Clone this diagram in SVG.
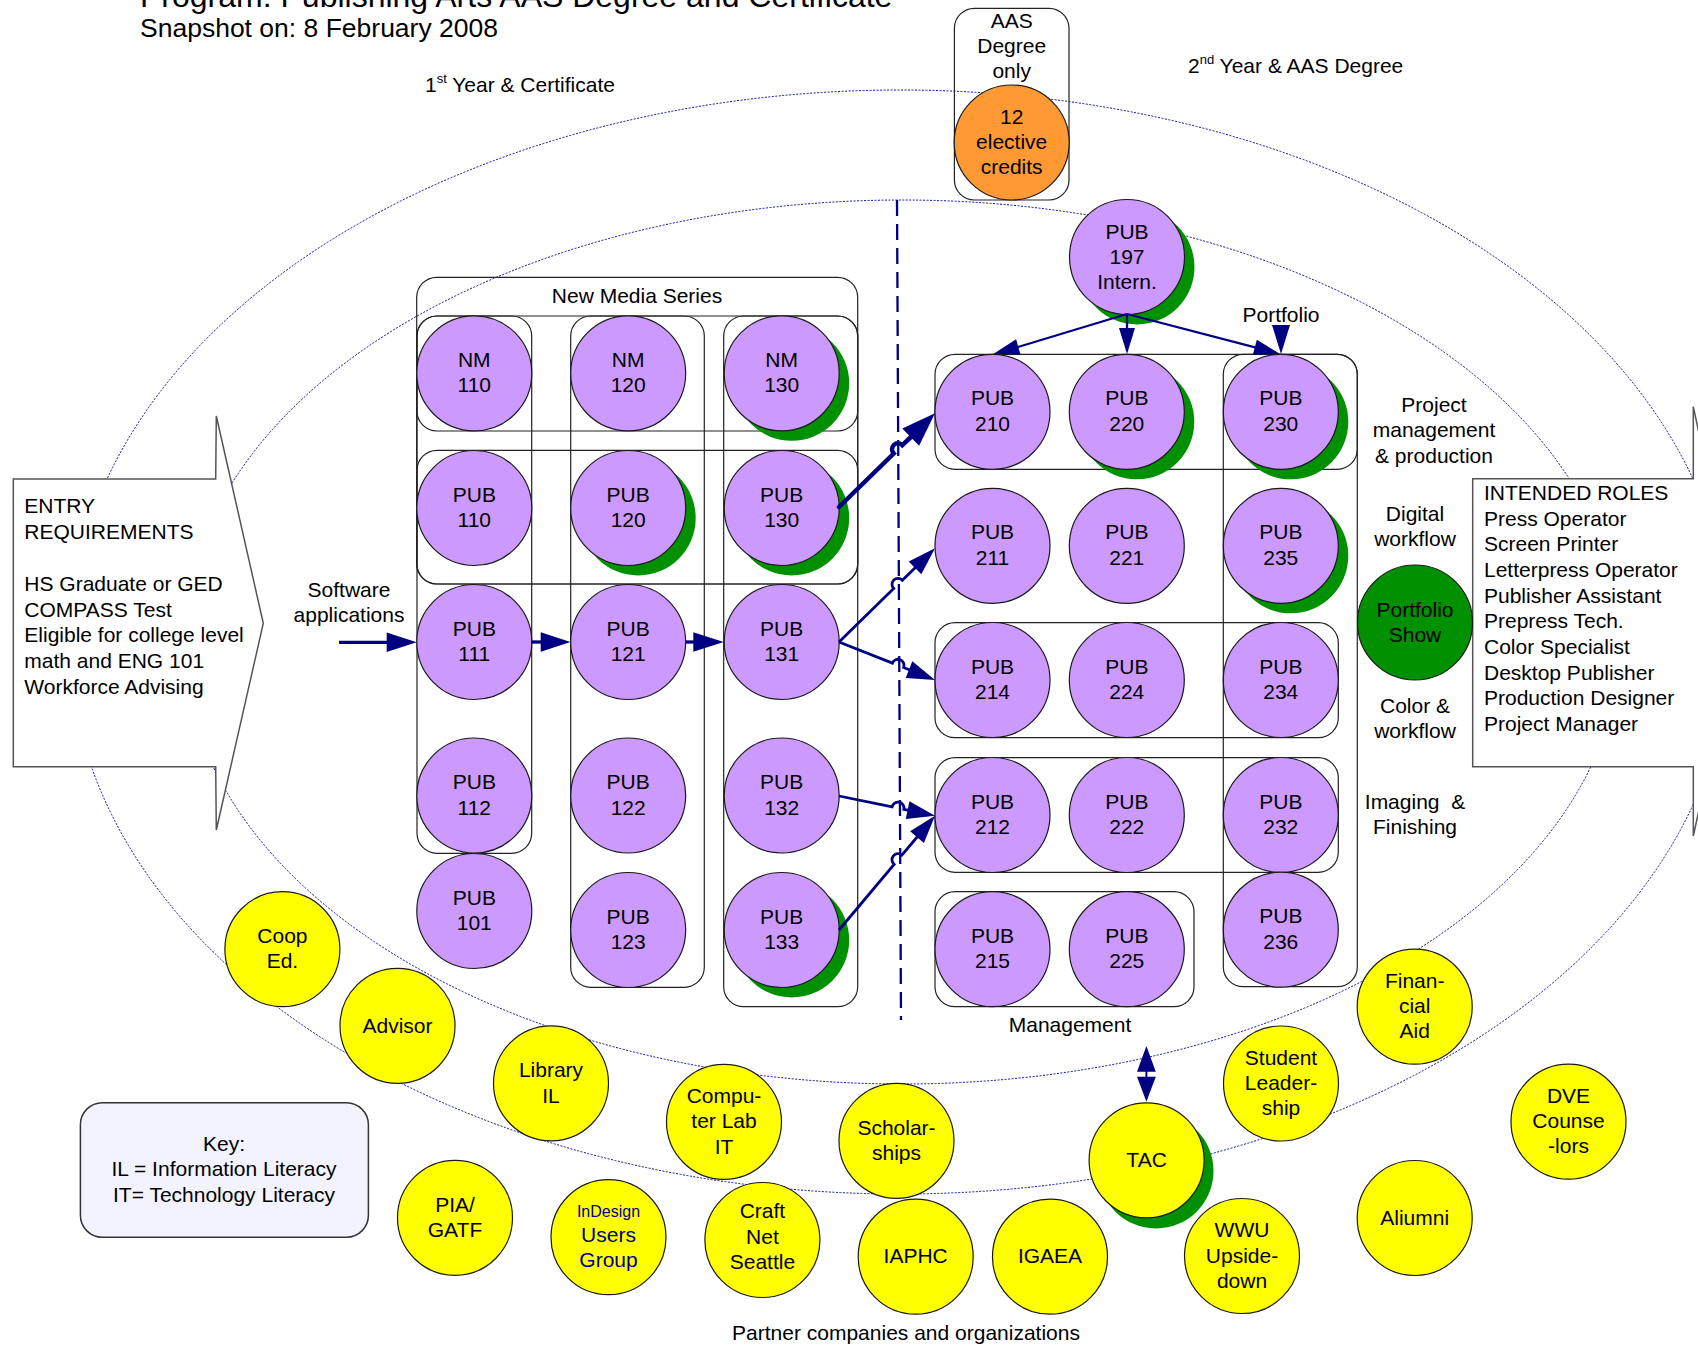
<svg xmlns="http://www.w3.org/2000/svg" width="1698" height="1345" viewBox="0 0 1698 1345">
<style>
text{font-family:"Liberation Sans",Arial,sans-serif;font-size:21px;fill:#000}
.m{text-anchor:middle}
.t1{font-size:32px}
.t2{font-size:26.5px}
.sup{font-size:13px}
.small{font-size:16px}
.blue{fill:#000090}
.c{fill:#CC99FF;stroke:#1a1a1a;stroke-width:1.2}
.y{fill:#FFFF00;stroke:#1a1a1a;stroke-width:1.2}
.o{fill:#FF9933;stroke:#1a1a1a;stroke-width:1.2}
.g{fill:#009000;stroke:#1a1a1a;stroke-width:1.2}
.sh{fill:#009000}
.box{fill:none;stroke:#222;stroke-width:1.2}
.ell{fill:none;stroke:#1010A0;stroke-width:1;stroke-dasharray:2 1.5}
.con{stroke:#000080;fill:none}
.hd{fill:#000080}
.big{fill:#fff;stroke:#555;stroke-width:1.5}
</style>
<rect width="1698" height="1345" fill="#fff"/>
<g id="background">
<ellipse class="ell" cx="900" cy="642" rx="830" ry="552"/>
<ellipse class="ell" cx="902" cy="642" rx="718" ry="442"/>
<line x1="897" y1="200" x2="901" y2="1020" stroke="#000080" stroke-width="2.3" stroke-dasharray="16 8"/>
</g>
<g id="titles">
<text class="t1" x="140" y="7">Program: Publishing Arts AAS Degree and Certificate</text>
<text class="t2" x="140" y="36.7">Snapshot on: 8 February 2008</text>
<text x="425" y="91.7">1<tspan class="sup" dy="-9">st</tspan><tspan dy="9"> Year &amp; Certificate</tspan></text>
<text x="1188" y="72.7">2<tspan class="sup" dy="-9">nd</tspan><tspan dy="9"> Year &amp; AAS Degree</tspan></text>
<text class="m" x="906" y="1340">Partner companies and organizations</text>
<text class="m" x="1070" y="1031.7">Management</text>
<text class="m" x="1281" y="321.7">Portfolio</text>
<text class="m" x="349" y="596.7">Software</text>
<text class="m" x="349" y="622.3">applications</text>
<text class="m" x="1434" y="411.7">Project</text>
<text class="m" x="1434" y="437.3">management</text>
<text class="m" x="1434" y="462.7">&amp; production</text>
<text class="m" x="1415" y="520.7">Digital</text>
<text class="m" x="1415" y="545.7">workflow</text>
<text class="m" x="1415" y="713.3">Color &amp;</text>
<text class="m" x="1415" y="738.3">workflow</text>
<text class="m" x="1415" y="809.3" xml:space="preserve">Imaging  &amp;</text>
<text class="m" x="1415" y="834">Finishing</text>
</g>
<g id="entry-requirements">
<polygon class="big" points="13.3,479 215.7,479 216.3,416 263.3,623.3 216.3,830 215.7,766.7 13.3,766.7"/>
<text x="24.3" y="513.3">ENTRY</text>
<text x="24.3" y="539.3">REQUIREMENTS</text>
<text x="24.3" y="590.7">HS Graduate or GED</text>
<text x="24.3" y="616.7">COMPASS Test</text>
<text x="24.3" y="642.3">Eligible for college level</text>
<text x="24.3" y="668">math and ENG 101</text>
<text x="24.3" y="693.5">Workforce Advising</text>
</g>
<g id="intended-roles">
<polygon class="big" points="1472.7,478.7 1693.3,478.7 1693.3,406.7 1740,623 1693.3,836 1693.3,766.7 1472.7,766.7"/>
<text x="1484" y="500">INTENDED ROLES</text>
<text x="1484" y="525.7">Press Operator</text>
<text x="1484" y="551.3">Screen Printer</text>
<text x="1484" y="577">Letterpress Operator</text>
<text x="1484" y="602.7">Publisher Assistant</text>
<text x="1484" y="628.3">Prepress Tech.</text>
<text x="1484" y="654">Color Specialist</text>
<text x="1484" y="679.7">Desktop Publisher</text>
<text x="1484" y="705.3">Production Designer</text>
<text x="1484" y="731">Project Manager</text>
</g>
<g id="key">
<rect x="80.4" y="1102.7" width="288" height="134.6" rx="22" fill="#F3F3FF" stroke="#333" stroke-width="1.5"/>
<text class="m" x="224" y="1150.7">Key:</text>
<text class="m" x="224" y="1176">IL = Information Literacy</text>
<text class="m" x="224" y="1201.7">IT= Technology Literacy</text>
</g>
<g id="groups">
<rect id="new-media-series" class="box" x="416.7" y="277.3" width="441" height="306.7" rx="20"/>
<text class="m" x="637" y="302.7">New Media Series</text>
<rect class="box" x="417" y="316" width="114.7" height="537.3" rx="20"/>
<rect class="box" x="570.7" y="316" width="133.6" height="671.3" rx="20"/>
<rect class="box" x="723.7" y="316" width="134" height="690.7" rx="20"/>
<rect class="box" x="417" y="316" width="440.7" height="115" rx="20"/>
<rect class="box" x="417" y="450.3" width="440.7" height="133.7" rx="20"/>
<rect class="box" x="935" y="354.3" width="422.3" height="115" rx="20"/>
<rect class="box" x="1223.3" y="354.3" width="134" height="632.4" rx="20"/>
<rect class="box" x="935" y="622.7" width="403.3" height="115" rx="20"/>
<rect class="box" x="935" y="757.7" width="403.3" height="114.6" rx="20"/>
<rect class="box" x="935" y="891.7" width="259" height="115" rx="20"/>
<rect id="aas-only" class="box" x="954.4" y="8.3" width="114.6" height="191.7" rx="20"/>
<text class="m" x="1011.7" y="28.3">AAS</text>
<text class="m" x="1011.7" y="53.3">Degree</text>
<text class="m" x="1011.7" y="78.3">only</text>
</g>
<g id="n-elective"><circle class="o" cx="1011.7" cy="142.5" r="57.5"/><text class="m" x="1011.7" y="124">12</text><text class="m" x="1011.7" y="149">elective</text><text class="m" x="1011.7" y="174">credits</text></g>
<g id="n-nm110"><circle class="c" cx="474.3" cy="373.3" r="57.5"/><text class="m" x="474.3" y="366.8">NM</text><text class="m" x="474.3" y="392.3">110</text></g>
<g id="n-nm120"><circle class="c" cx="628.2" cy="373.3" r="57.5"/><text class="m" x="628.2" y="366.8">NM</text><text class="m" x="628.2" y="392.3">120</text></g>
<g id="n-nm130"><circle class="sh" cx="791.7" cy="383.3" r="57.5"/><circle class="c" cx="781.7" cy="373.3" r="57.5"/><text class="m" x="781.7" y="366.8">NM</text><text class="m" x="781.7" y="392.3">130</text></g>
<g id="n-pub110"><circle class="c" cx="474.3" cy="508" r="57.5"/><text class="m" x="474.3" y="501.5">PUB</text><text class="m" x="474.3" y="527">110</text></g>
<g id="n-pub120"><circle class="sh" cx="638.2" cy="518" r="57.5"/><circle class="c" cx="628.2" cy="508" r="57.5"/><text class="m" x="628.2" y="501.5">PUB</text><text class="m" x="628.2" y="527">120</text></g>
<g id="n-pub130"><circle class="sh" cx="791.7" cy="518" r="57.5"/><circle class="c" cx="781.7" cy="508" r="57.5"/><text class="m" x="781.7" y="501.5">PUB</text><text class="m" x="781.7" y="527">130</text></g>
<g id="n-pub111"><circle class="c" cx="474.3" cy="642" r="57.5"/><text class="m" x="474.3" y="635.5">PUB</text><text class="m" x="474.3" y="661">111</text></g>
<g id="n-pub121"><circle class="c" cx="628.2" cy="642" r="57.5"/><text class="m" x="628.2" y="635.5">PUB</text><text class="m" x="628.2" y="661">121</text></g>
<g id="n-pub131"><circle class="c" cx="781.7" cy="642" r="57.5"/><text class="m" x="781.7" y="635.5">PUB</text><text class="m" x="781.7" y="661">131</text></g>
<g id="n-pub112"><circle class="c" cx="474.3" cy="795.5" r="57.5"/><text class="m" x="474.3" y="789">PUB</text><text class="m" x="474.3" y="814.5">112</text></g>
<g id="n-pub122"><circle class="c" cx="628.2" cy="795.5" r="57.5"/><text class="m" x="628.2" y="789">PUB</text><text class="m" x="628.2" y="814.5">122</text></g>
<g id="n-pub132"><circle class="c" cx="781.7" cy="795.5" r="57.5"/><text class="m" x="781.7" y="789">PUB</text><text class="m" x="781.7" y="814.5">132</text></g>
<g id="n-pub101"><circle class="c" cx="474.3" cy="911" r="57.5"/><text class="m" x="474.3" y="904.5">PUB</text><text class="m" x="474.3" y="930">101</text></g>
<g id="n-pub123"><circle class="c" cx="628.2" cy="930" r="57.5"/><text class="m" x="628.2" y="923.5">PUB</text><text class="m" x="628.2" y="949">123</text></g>
<g id="n-pub133"><circle class="sh" cx="791.7" cy="940" r="57.5"/><circle class="c" cx="781.7" cy="930" r="57.5"/><text class="m" x="781.7" y="923.5">PUB</text><text class="m" x="781.7" y="949">133</text></g>
<g id="n-pub197"><circle class="sh" cx="1137" cy="267" r="57.5"/><circle class="c" cx="1127" cy="257" r="57.5"/><text class="m" x="1127" y="238.5">PUB</text><text class="m" x="1127" y="263.5">197</text><text class="m" x="1127" y="288.5">Intern.</text></g>
<g id="n-pub210"><circle class="c" cx="992.5" cy="411.8" r="57.5"/><text class="m" x="992.5" y="405.3">PUB</text><text class="m" x="992.5" y="430.8">210</text></g>
<g id="n-pub220"><circle class="sh" cx="1136.8" cy="421.8" r="57.5"/><circle class="c" cx="1126.8" cy="411.8" r="57.5"/><text class="m" x="1126.8" y="405.3">PUB</text><text class="m" x="1126.8" y="430.8">220</text></g>
<g id="n-pub230"><circle class="sh" cx="1290.8" cy="421.8" r="57.5"/><circle class="c" cx="1280.8" cy="411.8" r="57.5"/><text class="m" x="1280.8" y="405.3">PUB</text><text class="m" x="1280.8" y="430.8">230</text></g>
<g id="n-pub211"><circle class="c" cx="992.5" cy="545.8" r="57.5"/><text class="m" x="992.5" y="539.3">PUB</text><text class="m" x="992.5" y="564.8">211</text></g>
<g id="n-pub221"><circle class="c" cx="1126.8" cy="545.8" r="57.5"/><text class="m" x="1126.8" y="539.3">PUB</text><text class="m" x="1126.8" y="564.8">221</text></g>
<g id="n-pub235"><circle class="sh" cx="1290.8" cy="555.8" r="57.5"/><circle class="c" cx="1280.8" cy="545.8" r="57.5"/><text class="m" x="1280.8" y="539.3">PUB</text><text class="m" x="1280.8" y="564.8">235</text></g>
<g id="n-pub214"><circle class="c" cx="992.5" cy="680" r="57.5"/><text class="m" x="992.5" y="673.5">PUB</text><text class="m" x="992.5" y="699">214</text></g>
<g id="n-pub224"><circle class="c" cx="1126.8" cy="680" r="57.5"/><text class="m" x="1126.8" y="673.5">PUB</text><text class="m" x="1126.8" y="699">224</text></g>
<g id="n-pub234"><circle class="c" cx="1280.8" cy="680" r="57.5"/><text class="m" x="1280.8" y="673.5">PUB</text><text class="m" x="1280.8" y="699">234</text></g>
<g id="n-pub212"><circle class="c" cx="992.5" cy="815" r="57.5"/><text class="m" x="992.5" y="808.5">PUB</text><text class="m" x="992.5" y="834">212</text></g>
<g id="n-pub222"><circle class="c" cx="1126.8" cy="815" r="57.5"/><text class="m" x="1126.8" y="808.5">PUB</text><text class="m" x="1126.8" y="834">222</text></g>
<g id="n-pub232"><circle class="c" cx="1280.8" cy="815" r="57.5"/><text class="m" x="1280.8" y="808.5">PUB</text><text class="m" x="1280.8" y="834">232</text></g>
<g id="n-pub215"><circle class="c" cx="992.5" cy="949.2" r="57.5"/><text class="m" x="992.5" y="942.7">PUB</text><text class="m" x="992.5" y="968.2">215</text></g>
<g id="n-pub225"><circle class="c" cx="1126.8" cy="949.2" r="57.5"/><text class="m" x="1126.8" y="942.7">PUB</text><text class="m" x="1126.8" y="968.2">225</text></g>
<g id="n-pub236"><circle class="c" cx="1280.8" cy="929.7" r="57.5"/><text class="m" x="1280.8" y="923.2">PUB</text><text class="m" x="1280.8" y="948.7">236</text></g>
<g id="n-portfolio-show"><circle class="g" cx="1415" cy="622.5" r="57.5"/><text class="m" x="1415" y="617.3">Portfolio</text><text class="m" x="1415" y="642.3">Show</text></g>
<g id="n-coop"><circle class="y" cx="282.4" cy="949.2" r="57.5"/><text class="m" x="282.4" y="943.3">Coop</text><text class="m" x="282.4" y="968.3">Ed.</text></g>
<g id="n-advisor"><circle class="y" cx="397.5" cy="1025.8" r="57.5"/><text class="m" x="397.5" y="1033.3">Advisor</text></g>
<g id="n-library"><circle class="y" cx="551" cy="1083.3" r="57.5"/><text class="m" x="551" y="1076.7">Library</text><text class="m" x="551" y="1102.7">IL</text></g>
<g id="n-computer-lab"><circle class="y" cx="724" cy="1121.8" r="57.5"/><text class="m" x="724" y="1102.7">Compu-</text><text class="m" x="724" y="1128.3">ter Lab</text><text class="m" x="724" y="1154">IT</text></g>
<g id="n-scholarships"><circle class="y" cx="896.5" cy="1140.8" r="57.5"/><text class="m" x="896.5" y="1135">Scholar-</text><text class="m" x="896.5" y="1160">ships</text></g>
<g id="n-tac"><circle class="sh" cx="1156" cy="1171" r="57.5"/><circle class="y" cx="1146.6" cy="1160.3" r="57.5"/><text class="m" x="1146.6" y="1166.7">TAC</text></g>
<g id="n-student-leadership"><circle class="y" cx="1281" cy="1083.5" r="57.5"/><text class="m" x="1281" y="1065">Student</text><text class="m" x="1281" y="1090">Leader-</text><text class="m" x="1281" y="1115">ship</text></g>
<g id="n-financial-aid"><circle class="y" cx="1414.7" cy="1006.7" r="57.5"/><text class="m" x="1414.7" y="988.3">Finan-</text><text class="m" x="1414.7" y="1013.3">cial</text><text class="m" x="1414.7" y="1038.3">Aid</text></g>
<g id="n-dve"><circle class="y" cx="1568.5" cy="1121.7" r="57.5"/><text class="m" x="1568.5" y="1102.7">DVE</text><text class="m" x="1568.5" y="1128.3">Counse</text><text class="m" x="1568.5" y="1153.3">-lors</text></g>
<g id="n-pia"><circle class="y" cx="455" cy="1217.8" r="57.5"/><text class="m" x="455" y="1211.7">PIA/</text><text class="m" x="455" y="1236.7">GATF</text></g>
<g id="n-indesign"><circle class="y" cx="608.5" cy="1237.2" r="57.5"/><text class="m small blue" x="608.5" y="1217.3">InDesign</text><text class="m blue" x="608.5" y="1241.7">Users</text><text class="m blue" x="608.5" y="1266.7">Group</text></g>
<g id="n-craftnet"><circle class="y" cx="762.4" cy="1240" r="57.5"/><text class="m" x="762.4" y="1218.3">Craft</text><text class="m" x="762.4" y="1244">Net</text><text class="m" x="762.4" y="1269">Seattle</text></g>
<g id="n-iaphc"><circle class="y" cx="915.7" cy="1256.7" r="57.5"/><text class="m" x="915.7" y="1263.3">IAPHC</text></g>
<g id="n-igaea"><circle class="y" cx="1050" cy="1256.7" r="57.5"/><text class="m" x="1050" y="1263.3">IGAEA</text></g>
<g id="n-wwu"><circle class="y" cx="1242" cy="1256" r="57.5"/><text class="m" x="1242" y="1236.7">WWU</text><text class="m" x="1242" y="1262.7">Upside-</text><text class="m" x="1242" y="1288.3">down</text></g>
<g id="n-aliumni"><circle class="y" cx="1414.7" cy="1218" r="57.5"/><text class="m" x="1414.7" y="1225">Aliumni</text></g>
<g id="connectors">
<path class="con" stroke-width="3.3" d="M339,642.3 L388,642.3"/>
<polygon class="hd" points="386.7,632.6 416.7,642.3 386.7,652"/>
<path class="con" stroke-width="3.3" d="M531.7,642 L542,642"/>
<polygon class="hd" points="540.7,632.3 570.5,642 540.7,651.7"/>
<path class="con" stroke-width="3.3" d="M685.7,642 L695,642"/>
<polygon class="hd" points="693.3,632.3 723.7,642 693.3,651.7"/>
<path class="con" stroke-width="4.5" stroke-linecap="round" d="M839,507 L893.7,453.5 A6,6 0 0 1 902.3,445.1 L912,436"/>
<polygon class="hd" points="935,413.3 919.1,445.7 902.3,428.5"/>
<path class="con" stroke-width="2.8" d="M839,642 L893.7,588.6 A6,6 0 0 1 902.3,580.2 L916,567"/>
<polygon class="hd" points="935,548.3 921.3,574.3 908.7,561.5"/>
<path class="con" stroke-width="2.8" d="M839,642 L892.4,663.1 A6,6 0 0 1 903.6,667.5 L910,670"/>
<polygon class="hd" points="935,680 905.7,678.1 912.3,661.3"/>
<path class="con" stroke-width="2.8" d="M839,796 L892.1,806.9 A6,6 0 0 1 903.9,809.3 L909,810.4"/>
<polygon class="hd" points="935,815.7 905.8,818.9 909.4,801.3"/>
<path class="con" stroke-width="2.8" d="M839,930 L894.1,864.3 A6,6 0 0 1 901.9,855.1 L918,836"/>
<polygon class="hd" points="935,815.7 923.9,842.9 910.1,831.3"/>
<path class="con" stroke-width="2.3" d="M1127,314 L1018,347"/>
<polygon class="hd" points="993.3,354 1020.5,354.6 1016.1,339.2"/>
<path class="con" stroke-width="2.3" d="M1127,314 L1127,330"/>
<polygon class="hd" points="1127,354 1119,328 1135,328"/>
<path class="con" stroke-width="2.3" d="M1127,314 L1256,347.6"/>
<polygon class="hd" points="1280,354 1252.8,355.1 1256.8,339.7"/>
<polygon class="hd" points="1281,354 1272,325 1290,325"/>
<path class="con" stroke-width="2" d="M1146.4,1070 L1146.4,1078"/>
<polygon class="hd" points="1146.4,1046 1137,1071.7 1155.8,1071.7"/>
<polygon class="hd" points="1146.4,1101.7 1137,1076.7 1155.8,1076.7"/>
</g>
</svg>
